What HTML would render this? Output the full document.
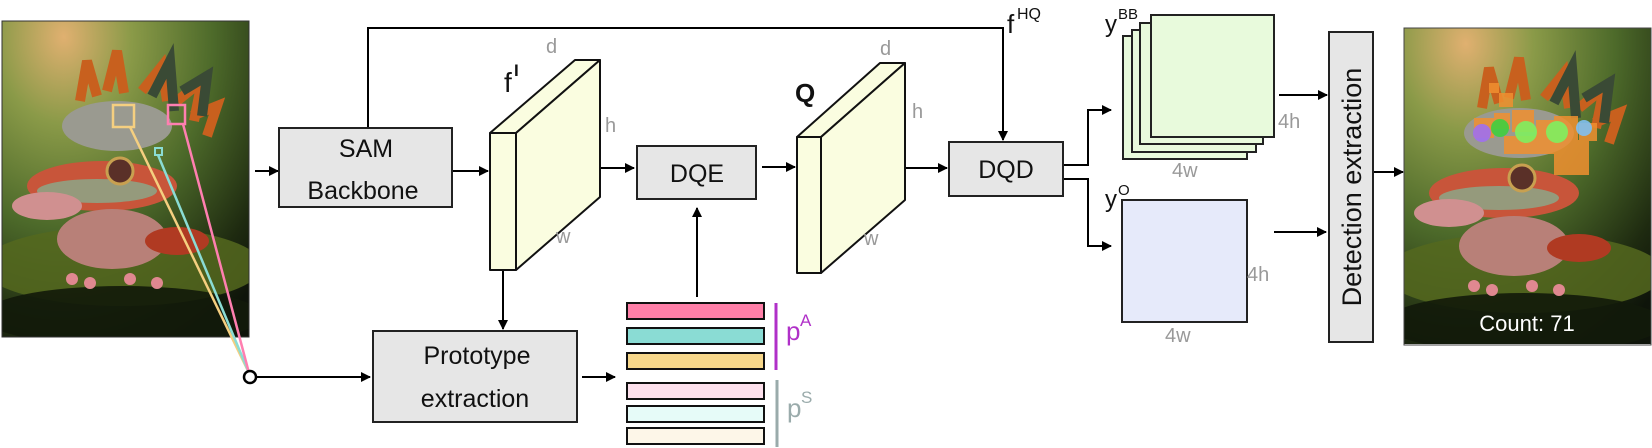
<!DOCTYPE html>
<html><head><meta charset="utf-8"><style>html,body{margin:0;padding:0;background:#fff}svg{display:block}</style></head>
<body>
<svg width="1652" height="448" viewBox="0 0 1652 448" xmlns="http://www.w3.org/2000/svg" font-family="Liberation Sans, sans-serif">
<defs>
<marker id="a" viewBox="0 0 10 10" refX="9" refY="5" markerWidth="5" markerHeight="5" orient="auto"><path d="M0,0L10,5L0,10z" fill="#000"/></marker>
<radialGradient id="bg" cx="0.25" cy="0.05" r="1.1"><stop offset="0" stop-color="#e0b070"/><stop offset="0.25" stop-color="#8a9a48"/><stop offset="0.55" stop-color="#4d6a2a"/><stop offset="0.85" stop-color="#1e2a10"/><stop offset="1" stop-color="#0e140a"/></radialGradient>
<clipPath id="cp"><rect x="0" y="0" width="247" height="316"/></clipPath>
<g id="gecko">
<g clip-path="url(#cp)">
<rect x="0" y="0" width="247" height="316" fill="url(#bg)"/>
<ellipse cx="120" cy="245" rx="140" ry="40" fill="#55681e" opacity="0.85"/>
<ellipse cx="120" cy="295" rx="140" ry="30" fill="#121a0a" opacity="0.9"/>
<path d="M78,80 L85,40 L95,75 M105,70 L115,30 L122,72 M140,70 L160,45 L165,80 M175,80 L200,60 L192,100 M190,95 L215,85 L205,115" stroke="#c8601e" stroke-width="10" fill="none"/>
<path d="M150,75 L168,40 L172,90 M180,70 L205,55 L200,95" stroke="#3a4a35" stroke-width="10" fill="none"/>
<ellipse cx="115" cy="105" rx="55" ry="25" fill="#9a9a90"/>
<ellipse cx="100" cy="165" rx="75" ry="25" fill="#c8553a"/>
<ellipse cx="95" cy="170" rx="60" ry="12" fill="#7fb898" opacity="0.7"/>
<ellipse cx="45" cy="185" rx="35" ry="14" fill="#d09090"/>
<circle cx="118" cy="150" r="13" fill="#5a3028" stroke="#c8a050" stroke-width="3"/>
<ellipse cx="110" cy="218" rx="55" ry="30" fill="#b88078"/>
<ellipse cx="175" cy="220" rx="32" ry="14" fill="#b03a22"/>
<circle cx="70" cy="258" r="6" fill="#e08890"/><circle cx="88" cy="262" r="6" fill="#e08890"/><circle cx="128" cy="258" r="6" fill="#e08890"/><circle cx="155" cy="262" r="6" fill="#e08890"/>
</g>
</g>
</defs>

<!-- left photo -->
<g transform="translate(2,21)"><use href="#gecko"/></g>
<rect x="2" y="21" width="247" height="316" fill="none" stroke="#333" stroke-width="1"/>
<rect x="113" y="105" width="21" height="22" fill="none" stroke="#f5cf80" stroke-width="2.5"/>
<rect x="168" y="105" width="17" height="19" fill="none" stroke="#ff7fb0" stroke-width="2.5"/>
<rect x="155" y="148" width="7" height="7" fill="none" stroke="#8adcd4" stroke-width="2"/>
<line x1="130" y1="127" x2="249" y2="373" stroke="#f5cf80" stroke-width="2.5"/>
<line x1="158" y1="155" x2="249" y2="373" stroke="#8adcd4" stroke-width="2.5"/>
<line x1="183" y1="124" x2="249" y2="373" stroke="#ff7fb0" stroke-width="2.5"/>
<circle cx="250" cy="377" r="6" fill="#fff" stroke="#000" stroke-width="2.5"/>

<g stroke="#000" stroke-width="2" fill="none">
<line x1="256" y1="377" x2="370" y2="377" marker-end="url(#a)"/>
<line x1="255" y1="171" x2="278" y2="171" marker-end="url(#a)"/>
<line x1="452" y1="171" x2="488" y2="171" marker-end="url(#a)"/>
<polyline points="368,128 368,28 1003,28 1003,140" marker-end="url(#a)"/>
<line x1="503" y1="270" x2="503" y2="329" marker-end="url(#a)"/>
<line x1="571" y1="168" x2="634" y2="168" marker-end="url(#a)"/>
<line x1="762" y1="167" x2="795" y2="167" marker-end="url(#a)"/>
<line x1="895" y1="168" x2="947" y2="168" marker-end="url(#a)"/>
<line x1="697" y1="297" x2="697" y2="208" marker-end="url(#a)"/>
<line x1="582" y1="377" x2="615" y2="377" marker-end="url(#a)"/>
<polyline points="1063,165 1088,165 1088,110 1111,110" marker-end="url(#a)"/>
<polyline points="1063,179 1088,179 1088,246 1111,246" marker-end="url(#a)"/>
<line x1="1279" y1="95" x2="1327" y2="95" marker-end="url(#a)"/>
<line x1="1274" y1="232" x2="1326" y2="232" marker-end="url(#a)"/>
<line x1="1373" y1="172" x2="1403" y2="172" marker-end="url(#a)"/>
</g>

<!-- boxes -->
<g fill="#e6e6e6" stroke="#222" stroke-width="2">
<rect x="279" y="128" width="173" height="79"/>
<rect x="373" y="331" width="204" height="91"/>
<rect x="637" y="146" width="119" height="53"/>
<rect x="949" y="142" width="114" height="54"/>
</g>
<g font-size="25" text-anchor="middle" fill="#111">
<text x="366" y="157">SAM</text>
<text x="363" y="199">Backbone</text>
<text x="477" y="364">Prototype</text>
<text x="475" y="407">extraction</text>
<text x="697" y="182">DQE</text>
<text x="1006" y="178">DQD</text>
</g>

<!-- cuboids -->
<g fill="#fafde0" stroke="#111" stroke-width="2" stroke-linejoin="round">
<polygon points="490,133 575,60 600,60 516,133"/>
<polygon points="516,133 600,60 600,197 516,270"/>
<rect x="490" y="133" width="26" height="137"/>
<polygon points="797,137 880,63 905,63 821,137"/>
<polygon points="821,137 905,63 905,200 821,273"/>
<rect x="797" y="137" width="24" height="136"/>
</g>
<g fill="#999" font-size="20">
<text x="546" y="53">d</text><text x="605" y="132">h</text><text x="556" y="243">w</text>
<text x="880" y="55">d</text><text x="912" y="118">h</text><text x="864" y="245">w</text>
</g>
<text x="504" y="92" font-size="28" fill="#111">f</text><text x="514" y="76" font-size="17" fill="#111" font-weight="bold">I</text>
<text x="795" y="102" font-size="26" fill="#111" font-weight="bold">Q</text>
<text x="1007" y="33" font-size="26" fill="#111">f</text><text x="1017" y="19" font-size="16" fill="#111">HQ</text>

<!-- prototype bars -->
<g stroke="#111" stroke-width="2">
<rect x="627" y="303" width="137" height="16" fill="#ff7fa8"/>
<rect x="627" y="328" width="137" height="16" fill="#8adcd4"/>
<rect x="627" y="353" width="137" height="16" fill="#f7d78a"/>
<rect x="627" y="383" width="137" height="16" fill="#fde0ec"/>
<rect x="627" y="406" width="137" height="16" fill="#e6fbf8"/>
<rect x="627" y="428" width="137" height="16" fill="#fdf6e8"/>
</g>
<line x1="776" y1="303" x2="776" y2="370" stroke="#b030c8" stroke-width="3"/>
<line x1="777" y1="380" x2="777" y2="447" stroke="#9aabab" stroke-width="3"/>
<text x="786" y="340" font-size="26" fill="#b030c8">p</text><text x="800" y="326" font-size="17" fill="#b030c8">A</text>
<text x="787" y="417" font-size="26" fill="#9aabab">p</text><text x="801" y="403" font-size="17" fill="#9aabab">S</text>

<!-- outputs -->
<g fill="#e8fadc" stroke="#222" stroke-width="2">
<rect x="1123" y="36" width="124" height="123"/>
<rect x="1132" y="30" width="124" height="122"/>
<rect x="1140" y="23" width="123" height="121"/>
<rect x="1151" y="15" width="123" height="122"/>
</g>
<rect x="1122" y="200" width="125" height="122" fill="#e6eafa" stroke="#222" stroke-width="2"/>
<text x="1105" y="32" font-size="24" fill="#111">y</text><text x="1118" y="19" font-size="15" fill="#111">BB</text>
<text x="1105" y="207" font-size="24" fill="#111">y</text><text x="1118" y="195" font-size="15" fill="#111">O</text>
<g fill="#999" font-size="20">
<text x="1278" y="128">4h</text><text x="1172" y="177">4w</text>
<text x="1247" y="281">4h</text><text x="1165" y="342">4w</text>
</g>

<rect x="1329" y="32" width="44" height="310" fill="#e6e6e6" stroke="#222" stroke-width="2"/>
<text transform="translate(1361,187) rotate(-90)" text-anchor="middle" font-size="27" fill="#111">Detection extraction</text>

<!-- right photo -->
<g transform="translate(1404,28)"><use href="#gecko"/>
<g fill="#f09030" opacity="0.85">
<rect x="85" y="55" width="10" height="10"/><rect x="95" y="65" width="14" height="14"/><rect x="70" y="90" width="20" height="20"/><rect x="90" y="85" width="16" height="16"/><rect x="108" y="82" width="22" height="22"/><rect x="132" y="92" width="20" height="20"/><rect x="150" y="88" width="24" height="24"/><rect x="175" y="95" width="18" height="18"/><rect x="100" y="108" width="60" height="18"/><rect x="150" y="112" width="35" height="35"/>
</g>
<g opacity="0.9"><circle cx="78" cy="105" r="9" fill="#a070f0"/><circle cx="96" cy="100" r="9" fill="#40d040"/><circle cx="122" cy="104" r="11" fill="#80f060"/><circle cx="153" cy="104" r="11" fill="#80f060"/><circle cx="180" cy="100" r="8" fill="#80c0f0"/></g>
</g>
<rect x="1404" y="28" width="247" height="317" fill="none" stroke="#444" stroke-width="1"/>
<text x="1527" y="331" text-anchor="middle" font-size="22" fill="#fff">Count: 71</text>
</svg>
</body></html>
